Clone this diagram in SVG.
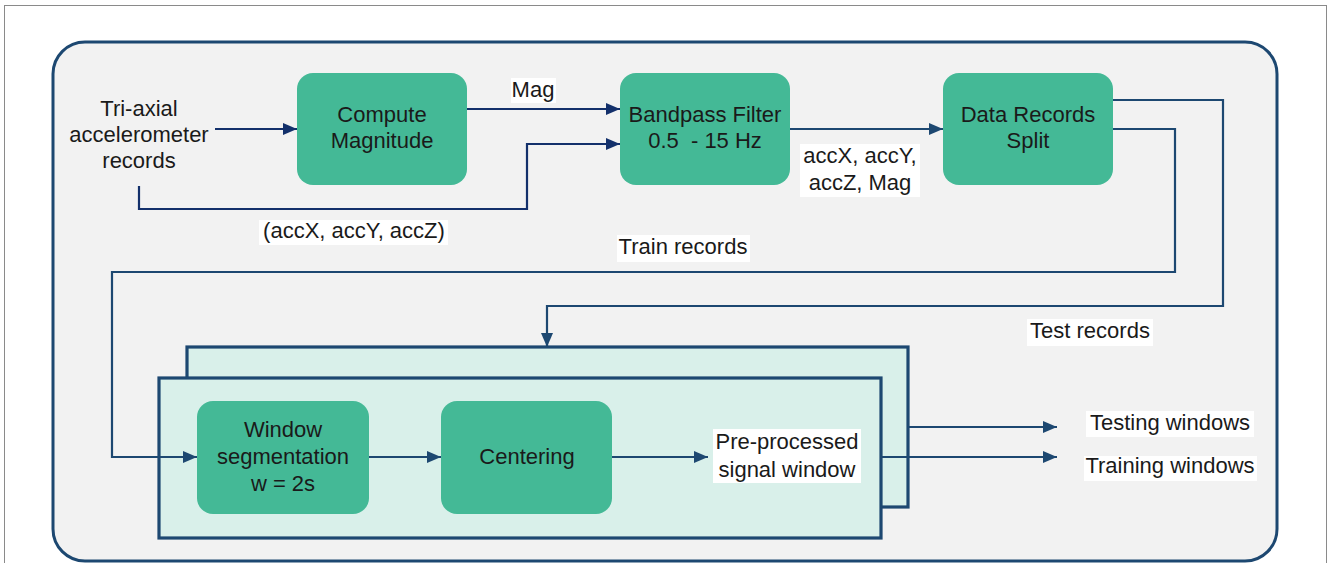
<svg xmlns="http://www.w3.org/2000/svg" width="1328" height="563" viewBox="0 0 1328 563">
<style>
.t{font-family:"Liberation Sans",Arial,sans-serif;font-size:22px;fill:#1a1a1a;text-anchor:middle}
.box{fill:#44b996;stroke:none}
.c1{fill:none;stroke:#13306b;stroke-width:2.2}
.c2{fill:none;stroke:#1d4871;stroke-width:2.2}
.frm{fill:#d9f0ea;stroke:#1d4871;stroke-width:3.2}
.bg{fill:#ffffff}
</style>
<defs>
<marker id="a1" markerUnits="userSpaceOnUse" markerWidth="14" markerHeight="14" viewBox="0 0 14 14" refX="14" refY="7" orient="auto"><path d="M0,1 L14,7 L0,13 Z" fill="#13306b"/></marker>
<marker id="a2" markerUnits="userSpaceOnUse" markerWidth="14" markerHeight="14" viewBox="0 0 14 14" refX="14" refY="7" orient="auto"><path d="M0,1 L14,7 L0,13 Z" fill="#1d4871"/></marker>
</defs>
<rect x="0" y="0" width="1328" height="563" fill="#ffffff"/>
<rect x="4.5" y="5.5" width="1322" height="560" fill="none" stroke="#8a8a8a" stroke-width="1"/>
<rect id="panel" x="53" y="42" width="1224" height="519" rx="32" fill="#f2f2f2" stroke="#1d4871" stroke-width="3"/>

<g id="test-frame"><rect class="frm" x="187" y="347" width="721" height="160"/></g>
<g id="train-frame"><rect class="frm" x="159" y="378" width="722" height="160"/></g>

<g id="connectors">
<path class="c1" d="M215,129 H297" marker-end="url(#a1)"/>
<path class="c1" d="M139,186 V209 H527 V144 H620" marker-end="url(#a1)"/>
<path class="c1" d="M467,109 H620" marker-end="url(#a1)"/>
<path class="c2" d="M790,129 H943" marker-end="url(#a2)"/>
<path class="c2" d="M1113,100 H1223 V306 H547 V347" marker-end="url(#a2)"/>
<path class="c2" d="M1113,129 H1175 V272 H112 V457 H197" marker-end="url(#a2)"/>
<path class="c2" d="M369,457 H441" marker-end="url(#a2)"/>
<path class="c2" d="M612,457 H708" marker-end="url(#a2)"/>
<path class="c2" d="M908,427 H1057" marker-end="url(#a2)"/>
<path class="c2" d="M881,457 H1057" marker-end="url(#a2)"/>
</g>

<g id="input"><text class="t" x="139" y="116">Tri-axial</text><text class="t" x="139" y="142">accelerometer</text><text class="t" x="139" y="168">records</text></g>

<g id="compute"><rect class="box" x="297" y="73" width="170" height="112" rx="16"/><text class="t" x="382" y="122">Compute</text><text class="t" x="382" y="148">Magnitude</text></g>
<g id="bandpass"><rect class="box" x="620" y="73" width="170" height="112" rx="16"/><text class="t" x="705" y="122">Bandpass Filter</text><text class="t" x="705" y="148" xml:space="preserve">0.5  - 15 Hz</text></g>
<g id="split"><rect class="box" x="943" y="73" width="170" height="112" rx="16"/><text class="t" x="1028" y="122">Data Records</text><text class="t" x="1028" y="148">Split</text></g>
<g id="window"><rect class="box" x="197" y="401" width="172" height="113" rx="16"/><text class="t" x="283" y="437">Window</text><text class="t" x="283" y="464">segmentation</text><text class="t" x="283" y="491">w = 2s</text></g>
<g id="centering"><rect class="box" x="441" y="401" width="171" height="113" rx="16"/><text class="t" x="527" y="464">Centering</text></g>

<g id="labels">
<rect class="bg" x="259" y="220" width="189" height="25"/><text class="t" x="354" y="238">(accX, accY, accZ)</text>
<rect class="bg" x="511" y="78" width="45" height="25"/><text class="t" x="533" y="97">Mag</text>
<rect class="bg" x="800" y="144" width="120" height="53"/><text class="t" x="860" y="163">accX, accY,</text><text class="t" x="860" y="190">accZ, Mag</text>
<rect class="bg" x="617" y="235" width="133" height="27"/><text class="t" x="683" y="254">Train records</text>
<rect class="bg" x="1027" y="319" width="126" height="27"/><text class="t" x="1090" y="338">Test records</text>
<rect class="bg" x="713" y="429" width="148" height="54"/><text class="t" x="787" y="449">Pre-processed</text><text class="t" x="787" y="477">signal window</text>
<rect class="bg" x="1086" y="411" width="168" height="26"/><text class="t" x="1170" y="430">Testing windows</text>
<rect class="bg" x="1084" y="456" width="173" height="25"/><text class="t" x="1170" y="473">Training windows</text>
</g>
</svg>
